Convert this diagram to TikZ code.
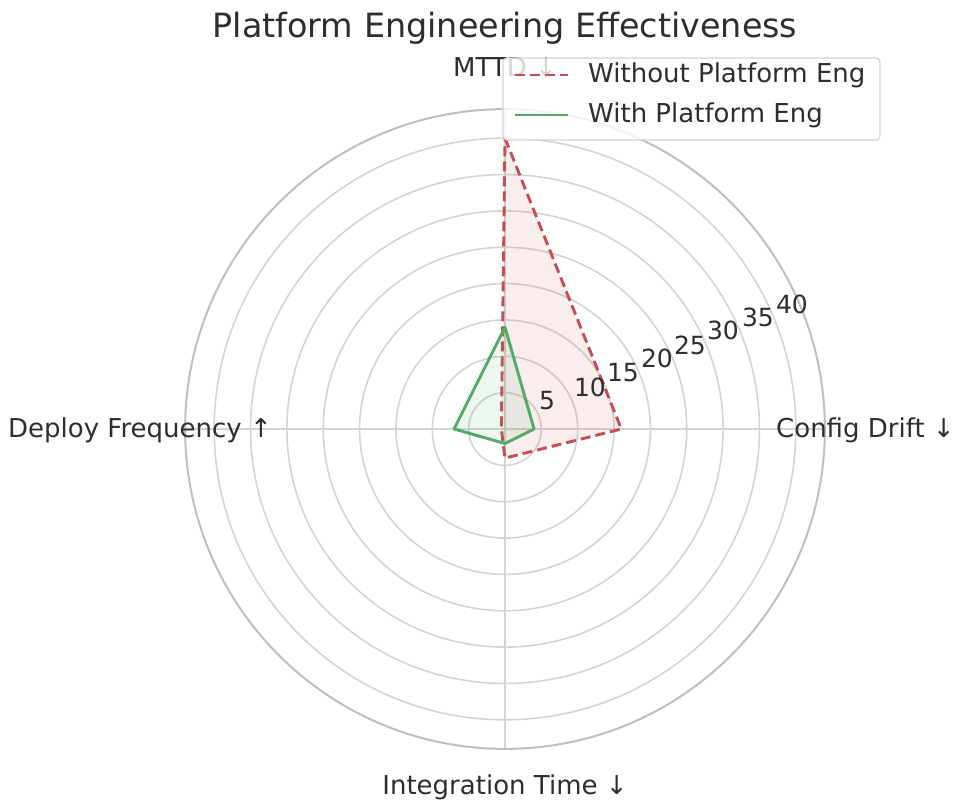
\documentclass[tikz,border=0pt]{standalone}
\usepackage{fontspec}
\setmainfont{DejaVu Sans}
\usetikzlibrary{calc}
\definecolor{redline}{HTML}{C44E52}
\definecolor{greenline}{HTML}{55A868}
\definecolor{gridc}{HTML}{D4D4D4}
\definecolor{txt}{HTML}{2E2E2E}
\tikzset{
  gridline/.style={draw=gridc, line width=1.6pt},
  outerline/.style={draw=gridc!90!black, line width=2pt},
  lbl/.style={text=txt, font=\fontsize{26}{30}\selectfont, inner sep=0pt},
  ticklbl/.style={text=txt, font=\fontsize{25}{28}\selectfont, inner sep=0pt},
  titlestyle/.style={text=txt, font=\fontsize{33.4}{38}\selectfont, inner sep=0pt},
  without/.style={draw=redline, line width=2.9pt, dash pattern=on 10pt off 5pt, line join=round, fill=redline, fill opacity=0.1, draw opacity=1},
  withp/.style={draw=greenline, line width=2.9pt, line join=round, fill=greenline, fill opacity=0.1, draw opacity=1},
  legendbox/.style={draw=gridc, line width=1.2pt, fill=white, fill opacity=0.8, rounded corners=4pt},
}
\begin{document}
\begin{tikzpicture}[x=1pt,y=1pt]
\useasboundingbox (-505,-375) rectangle (449,429);
\def\s{7.27}
% grid circles
\foreach \v in {5,10,...,40} {
  \draw[gridline] (0,0) circle[radius=\v*\s];
}
\draw[gridline] (-320,0) -- (320,0);
\draw[gridline] (0,-320) -- (0,320);
\draw[outerline] (0,0) circle[radius=44*\s];
% data
\coordinate (wA) at (0,{40*\s});
\coordinate (wB) at ({16*\s},0);
\coordinate (wC) at (0,{-4*\s});
\coordinate (wD) at ({-0.5*\s},0);
\coordinate (pA) at (0,{14*\s});
\coordinate (pB) at ({4*\s},0);
\coordinate (pC) at (0,{-2*\s});
\coordinate (pD) at ({-7*\s},0);
\path[without] (wA) -- (wB) -- (wC) -- (wD) -- cycle;
\path[withp] (pA) -- (pB) -- (pC) -- (pD) -- cycle;
% tick labels
\node[ticklbl] (t5) at (42,28) {5};
\node[ticklbl] (t10) at (85,42) {10};
\node[ticklbl] (t15) at (118,56) {15};
\node[ticklbl] (t20) at (152,71) {20};
\node[ticklbl] (t25) at (185,84) {25};
\node[ticklbl] (t30) at (218,99) {30};
\node[ticklbl] (t35) at (253,112) {35};
\node[ticklbl] (t40) at (287,125) {40};
% axis labels
\node[lbl] (mttd) at (0,362) {MTTD ↓};
\node[lbl, anchor=east] (deploy) at (-233,-1) {Deploy Frequency ↑};
\node[lbl, anchor=west] (drift) at (271,-1) {Config Drift ↓};
\node[lbl] (integ) at (0,-358) {Integration Time ↓};
% title
\node[titlestyle] (title) at (0,401) {Platform Engineering Effectiveness};
% legend
\path[legendbox] (-2,289) rectangle (375,371);
\coordinate (l1a) at (10,354);
\coordinate (l1b) at (63,354);
\coordinate (l2a) at (10,314);
\coordinate (l2b) at (63,314);
\draw[redline, line width=2.9pt, dash pattern=on 10pt off 5pt] (l1a) -- (l1b);
\draw[greenline, line width=2.9pt] (l2a) -- (l2b);
\node[lbl, anchor=west] (leg1) at (83,354) {Without Platform Eng};
\node[lbl, anchor=west] (leg2) at (83,314) {With Platform Eng};
\end{tikzpicture}
\end{document}
